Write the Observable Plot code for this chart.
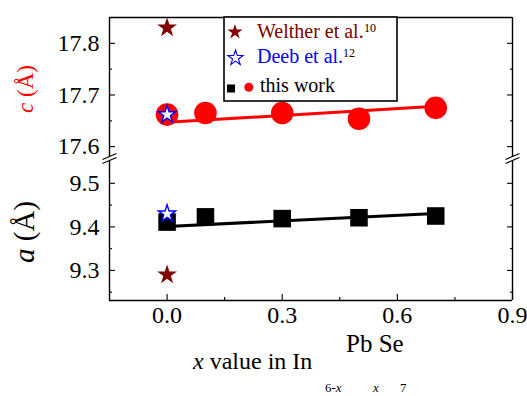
<!DOCTYPE html>
<html>
<head>
<meta charset="utf-8">
<script src="https://cdn.jsdelivr.net/npm/d3@7"></script>
<script src="https://cdn.jsdelivr.net/npm/@observablehq/plot@0.6"></script>
<style>
  body { margin: 0; background: #fff; }
  #chart { position: relative; width: 527px; height: 396px; font-family: "Liberation Serif", "Times New Roman", serif; }
  #chart svg { position: absolute; left: 0; }
  #chart svg text { font-family: "Liberation Serif", "Times New Roman", serif; }
</style>
</head>
<body>
<div id="chart"></div>
<script>
// Lattice parameters of In(6-x)Pb(x)Se7 versus composition x
const xThis = [0, 0.1, 0.3, 0.5, 0.7];
const cThis = [17.662, 17.665, 17.665, 17.654, 17.675];   // c (Å), red circles
const aThis = [9.411, 9.423, 9.419, 9.421, 9.425];        // a (Å), black squares

// linear trend lines (end points)
const fitX = [0, 0.7];
const cFit = [17.647, 17.678];
const aFit = [9.401, 9.431];

// literature values at x = 0
const weltherX = [0];
const weltherC = [17.83];
const weltherA = [9.29];
const deebX = [0];
const deebC = [17.662];
const deebA = [9.43];

// broken y axis: lower panel (a) and upper panel (c)
const xDomain = [-0.15, 0.9];
const yLower = [9.231, 9.557];
const yUpper = [17.577, 17.85];

// ticks
const xMajor = [0, 0.3, 0.6, 0.9];
const xMinor = [0.15, 0.45, 0.75];
const cMajor = [17.6, 17.7, 17.8];
const cMinor = [17.65, 17.75];
const aMajor = [9.3, 9.4, 9.5];
const aMinor = [9.25, 9.35, 9.45];

const W = 527, H = 396;
const mL = 109, mR = 15, mT = 17, mB = 96;
const splitPx = 158; // page row where the two panels meet

const pts = (xs, ys) => xs.map((x, i) => ({x, y: ys[i]}));
const fmt = d3.format(".1f");
const blank = () => "";
const font = '"Liberation Serif", "Times New Roman", serif';

// axis-break marker: two parallel slashes with a white gap between them
const breakGap = {draw(ctx) {
  ctx.moveTo(-7, 1); ctx.lineTo(7, -5); ctx.lineTo(7, -1); ctx.lineTo(-7, 5); ctx.closePath();
}};
const breakLines = {draw(ctx) {
  ctx.moveTo(-7, 1); ctx.lineTo(7, -5);
  ctx.moveTo(-7, 5); ctx.lineTo(7, -1);
}};

function tickAxes(major, minor) {
  return [
    Plot.axisY(major, {anchor: "left", tickSize: -6, tickFormat: blank, label: null, strokeWidth: 1.1}),
    Plot.axisY(minor, {anchor: "left", tickSize: -3, tickFormat: blank, label: null, strokeWidth: 1.1}),
    Plot.axisY(major, {anchor: "right", tickSize: -6, tickFormat: blank, label: null, strokeWidth: 1.1}),
    Plot.axisY(minor, {anchor: "right", tickSize: -3, tickFormat: blank, label: null, strokeWidth: 1.1}),
    Plot.axisY(major, {anchor: "left", tickSize: 0, tickPadding: 10, tickFormat: fmt, label: null, fontFamily: font, fontSize: 24})
  ];
}

const style = {fontFamily: font, fontSize: "24px", color: "black", background: "transparent", overflow: "visible"};

// lower panel: a (Å) with the x axis
const lower = Plot.plot({
  width: W, height: H - splitPx,
  marginLeft: mL, marginRight: mR, marginTop: 0, marginBottom: mB,
  style,
  x: {domain: xDomain},
  y: {domain: yLower},
  marks: [
    ...tickAxes(aMajor, aMinor),
    Plot.axisX(xMajor, {anchor: "bottom", tickSize: -6, tickFormat: blank, label: null, strokeWidth: 1.1}),
    Plot.axisX(xMinor, {anchor: "bottom", tickSize: -3, tickFormat: blank, label: null, strokeWidth: 1.1}),
    Plot.axisX(xMajor, {anchor: "bottom", tickSize: 0, tickPadding: 5, tickFormat: fmt, label: null, fontFamily: font, fontSize: 24}),
    Plot.ruleX(xDomain, {stroke: "black", strokeWidth: 1.4}),
    Plot.ruleY([yLower[0]], {stroke: "black", strokeWidth: 1.4}),
    Plot.line(pts(fitX, aFit), {x: "x", y: "y", stroke: "black", strokeWidth: 3}),
    Plot.dot(pts(xThis, aThis), {x: "x", y: "y", r: 9.9, symbol: "square", fill: "black", stroke: "none"}),
    Plot.dot(pts(weltherX, weltherA), {x: "x", y: "y", r: 6.2, symbol: "star", fill: "#800000", stroke: "none"}),
    Plot.dot(pts(deebX, deebA), {x: "x", y: "y", r: 5.4, symbol: "star", fill: "white", stroke: "#0000ff", strokeWidth: 1.4})
  ]
});

// upper panel: c (Å)
const breaks = xDomain.map(x => ({x, y: yUpper[0]}));
const upper = Plot.plot({
  width: W, height: splitPx,
  marginLeft: mL, marginRight: mR, marginTop: mT, marginBottom: 0,
  style,
  x: {domain: xDomain, axis: null},
  y: {domain: yUpper},
  marks: [
    ...tickAxes(cMajor, cMinor),
    Plot.ruleX(xDomain, {stroke: "black", strokeWidth: 1.4}),
    Plot.ruleY([yUpper[1]], {stroke: "black", strokeWidth: 1.4}),
    Plot.line(pts(fitX, cFit), {x: "x", y: "y", stroke: "#ff0000", strokeWidth: 3}),
    Plot.dot(pts(xThis, cThis), {x: "x", y: "y", r: 11.3, fill: "#ff0000", stroke: "none"}),
    Plot.dot(pts(weltherX, weltherC), {x: "x", y: "y", r: 6.2, symbol: "star", fill: "#800000", stroke: "none"}),
    Plot.dot(pts(deebX, deebC), {x: "x", y: "y", r: 5.4, symbol: "star", fill: "white", stroke: "#0000ff", strokeWidth: 1.4}),
    Plot.dot(breaks, {x: "x", y: "y", symbol: breakGap, fill: "white", stroke: "none", r: 5}),
    Plot.dot(breaks, {x: "x", y: "y", symbol: breakLines, fill: "none", stroke: "black", strokeWidth: 1.1, r: 5})
  ]
});

const chart = document.getElementById("chart");
lower.style.top = splitPx + "px";
upper.style.top = "0px";
chart.appendChild(lower);
chart.appendChild(upper);

// titles, composite axis label and legend
const svg = d3.select(chart).append("svg")
  .attr("width", W).attr("height", H)
  .style("top", "0px")
  .style("pointer-events", "none")
  .style("font-family", font);

function rotatedTitle(x, y, size, color, letter) {
  const t = svg.append("text")
    .attr("transform", `translate(${x},${y}) rotate(-90)`)
    .attr("text-anchor", "middle")
    .attr("font-size", size).attr("fill", color);
  t.append("tspan").attr("font-style", "italic").text(letter);
  t.append("tspan").text(" (Å)");
}
rotatedTitle(33, 89, 23, "#ff0000", "c");
rotatedTitle(34, 232, 29, "black", "a");

const xl = svg.append("text").attr("x", 193).attr("y", 369).attr("font-size", 24);
xl.append("tspan").attr("font-style", "italic").text("x");
xl.append("tspan").text(" value in In");
svg.append("text").attr("x", 346).attr("y", 352).attr("font-size", 25).text("Pb Se");
const sub1 = svg.append("text").attr("x", 325).attr("y", 392).attr("font-size", 13);
sub1.append("tspan").text("6-");
sub1.append("tspan").attr("font-style", "italic").text("x");
svg.append("text").attr("x", 373).attr("y", 392).attr("font-size", 13).attr("font-style", "italic").text("x");
svg.append("text").attr("x", 400).attr("y", 392).attr("font-size", 13).text("7");

// legend
const lg = svg.append("g");
lg.append("rect").attr("x", 224).attr("y", 17).attr("width", 173).attr("height", 84)
  .attr("fill", "white").attr("stroke", "black").attr("stroke-width", 1.6);
lg.append("path").attr("transform", "translate(235,32)")
  .attr("d", d3.symbol(d3.symbolStar, 72)()).attr("fill", "#800000");
lg.append("text").attr("x", 257).attr("y", 38).attr("font-size", 20).attr("fill", "#800000").text("Welther et al.");
lg.append("text").attr("x", 364).attr("y", 32).attr("font-size", 12).attr("fill", "black").text("10");
lg.append("path").attr("transform", "translate(235.5,58)")
  .attr("d", d3.symbol(d3.symbolStar, 72)()).attr("fill", "white").attr("stroke", "#0000ff").attr("stroke-width", 1.1);
lg.append("text").attr("x", 257).attr("y", 63).attr("font-size", 20).attr("fill", "#0000ff").text("Deeb et al.");
lg.append("text").attr("x", 343).attr("y", 57).attr("font-size", 12).attr("fill", "black").text("12");
lg.append("rect").attr("x", 227).attr("y", 84.5).attr("width", 8).attr("height", 8).attr("fill", "black");
lg.append("circle").attr("cx", 248.8).attr("cy", 87.2).attr("r", 4.5).attr("fill", "#ff0000");
lg.append("text").attr("x", 260).attr("y", 92).attr("font-size", 20).attr("fill", "black").text("this work");
</script>
</body>
</html>
